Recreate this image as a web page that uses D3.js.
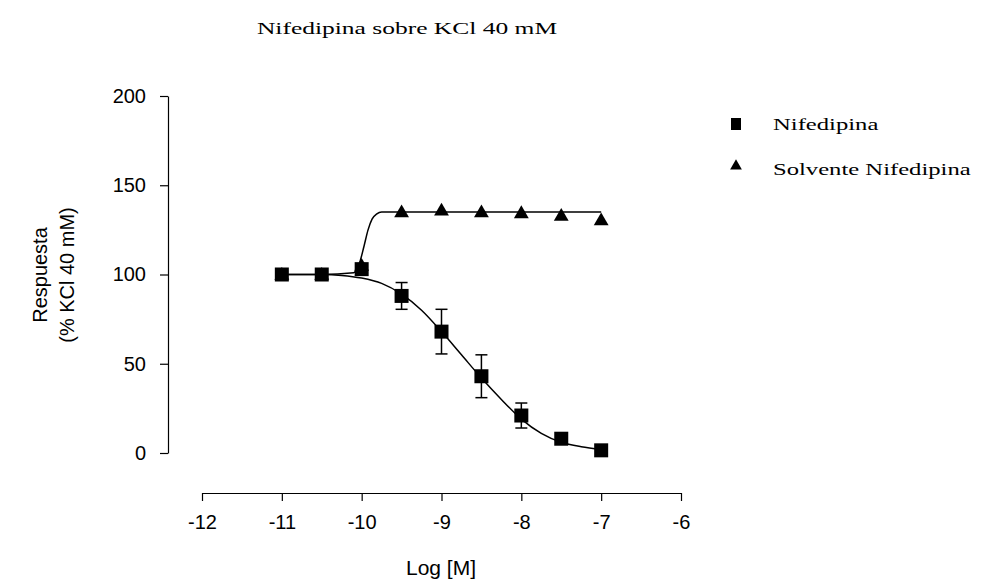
<!DOCTYPE html>
<html>
<head>
<meta charset="utf-8">
<script src="https://cdn.jsdelivr.net/npm/d3@7"></script>
<style>
  body { margin: 0; background: #fff; }
  svg text { fill: #000; }
</style>
</head>
<body>
<div id="chart"></div>
<script>
// data
const logConc = [-11, -10.5, -10, -9.5, -9, -8.5, -8, -7.5, -7];
const nifedipina = [100, 100, 103, 88, 68, 43, 21, 8, 1.5];
const nifedipinaErr = [2, 2, 3, 7.5, 12.5, 12, 7, 2, 1];
const solvente = [100, 100, 105, 135, 136, 135, 134.5, 133, 130.5];

// fitted curves, sampled by eye
const nifCurveX = [-11, -10.5, -10.25, -10, -9.75, -9.5, -9.25, -9, -8.75, -8.5, -8.25, -8, -7.75, -7.5, -7.25, -7];
const nifCurveY = [100, 100, 99.5, 98, 95, 89, 80, 68, 55, 42, 30, 19, 11, 6, 3.5, 2];
const solCurveX = [-11, -10.5, -10.1, -10.03, -9.97, -9.92, -9.87, -9.81, -9.75, -9.5, -7];
const solCurveY = [100, 100, 101, 106, 116, 125, 131, 134, 135, 135, 135];

const xTicks = [-12, -11, -10, -9, -8, -7, -6];
const yTicks = [0, 50, 100, 150, 200];

const W = 996, H = 588;
const svg = d3.select("#chart").append("svg")
    .attr("width", W)
    .attr("height", H);

const x = d3.scaleLinear().domain([-12, -6]).range([202, 681]);
const y = d3.scaleLinear().domain([0, 200]).range([453, 96]);

const sans = "'Liberation Sans', Arial, sans-serif";
const serif = "'Liberation Serif', 'Times New Roman', serif";

// title (scanned serif text is wide, so stretch it horizontally)
svg.append("text")
    .attr("transform", "translate(407,34) scale(1.5,1)")
    .attr("text-anchor", "middle")
    .style("font-family", serif)
    .style("font-size", "17px")
    .text("Nifedipina sobre KCl 40 mM");

// axes
const yAxis = svg.append("g")
    .attr("transform", "translate(168,0)")
    .call(d3.axisLeft(y).tickValues(yTicks).tickSize(8).tickPadding(14).tickSizeOuter(0));
const xAxis = svg.append("g")
    .attr("transform", "translate(0,493)")
    .call(d3.axisBottom(x).tickValues(xTicks).tickSize(8).tickPadding(14).tickSizeOuter(0)
        .tickFormat(d => d < 0 ? "-" + Math.abs(d) : d));
[yAxis, xAxis].forEach(g => {
    g.selectAll("text").style("font-family", sans).style("font-size", "20px");
    g.selectAll("path, line").attr("stroke", "#000").attr("stroke-width", 1.2);
});

// axis titles
svg.append("text")
    .attr("transform", "translate(47,275) rotate(-90)")
    .attr("text-anchor", "middle")
    .style("font-family", sans).style("font-size", "20px")
    .text("Respuesta");
svg.append("text")
    .attr("transform", "translate(74,275) rotate(-90)")
    .attr("text-anchor", "middle")
    .style("font-family", sans).style("font-size", "20px")
    .text("(% KCl 40 mM)");
svg.append("text")
    .attr("x", 441).attr("y", 575)
    .attr("text-anchor", "middle")
    .style("font-family", sans).style("font-size", "21px")
    .text("Log [M]");

// fitted curves
const line = d3.line().x(d => x(d[0])).y(d => y(d[1])).curve(d3.curveMonotoneX);
svg.append("path")
    .datum(d3.zip(solCurveX, solCurveY))
    .attr("d", line)
    .attr("fill", "none").attr("stroke", "#000").attr("stroke-width", 1.5);
svg.append("path")
    .datum(d3.zip(nifCurveX, nifCurveY))
    .attr("d", line)
    .attr("fill", "none").attr("stroke", "#000").attr("stroke-width", 1.5);

// solvent triangles
const tri = d3.symbol().type(d3.symbolTriangle).size(95);
svg.append("g").selectAll("path")
    .data(d3.zip(logConc, solvente))
    .join("path")
    .attr("d", tri)
    .attr("transform", d => `translate(${x(d[0])},${y(d[1]) + 1})`)
    .attr("fill", "#000");

// nifedipine error bars
const eb = svg.append("g").attr("stroke", "#000").attr("stroke-width", 1.5);
logConc.forEach((c, i) => {
    const cx = x(c), top = y(nifedipina[i] + nifedipinaErr[i]), bot = y(nifedipina[i] - nifedipinaErr[i]);
    eb.append("line").attr("x1", cx).attr("x2", cx).attr("y1", top).attr("y2", bot);
    eb.append("line").attr("x1", cx - 6).attr("x2", cx + 6).attr("y1", top).attr("y2", top);
    eb.append("line").attr("x1", cx - 6).attr("x2", cx + 6).attr("y1", bot).attr("y2", bot);
});

// nifedipine squares
svg.append("g").selectAll("rect")
    .data(d3.zip(logConc, nifedipina))
    .join("rect")
    .attr("x", d => x(d[0]) - 7)
    .attr("y", d => y(d[1]) - 7)
    .attr("width", 14).attr("height", 14)
    .attr("fill", "#000");

// legend
const legend = svg.append("g");
legend.append("rect").attr("x", 731).attr("y", 118).attr("width", 10).attr("height", 12).attr("fill", "#000");
legend.append("path").attr("d", d3.symbol().type(d3.symbolTriangle).size(60))
    .attr("transform", "translate(736,166)").attr("fill", "#000");
legend.append("text").attr("transform", "translate(773,130) scale(1.45,1)")
    .style("font-family", serif).style("font-size", "17px").text("Nifedipina");
legend.append("text").attr("transform", "translate(773,175) scale(1.45,1)")
    .style("font-family", serif).style("font-size", "17px").text("Solvente Nifedipina");
</script>
</body>
</html>
